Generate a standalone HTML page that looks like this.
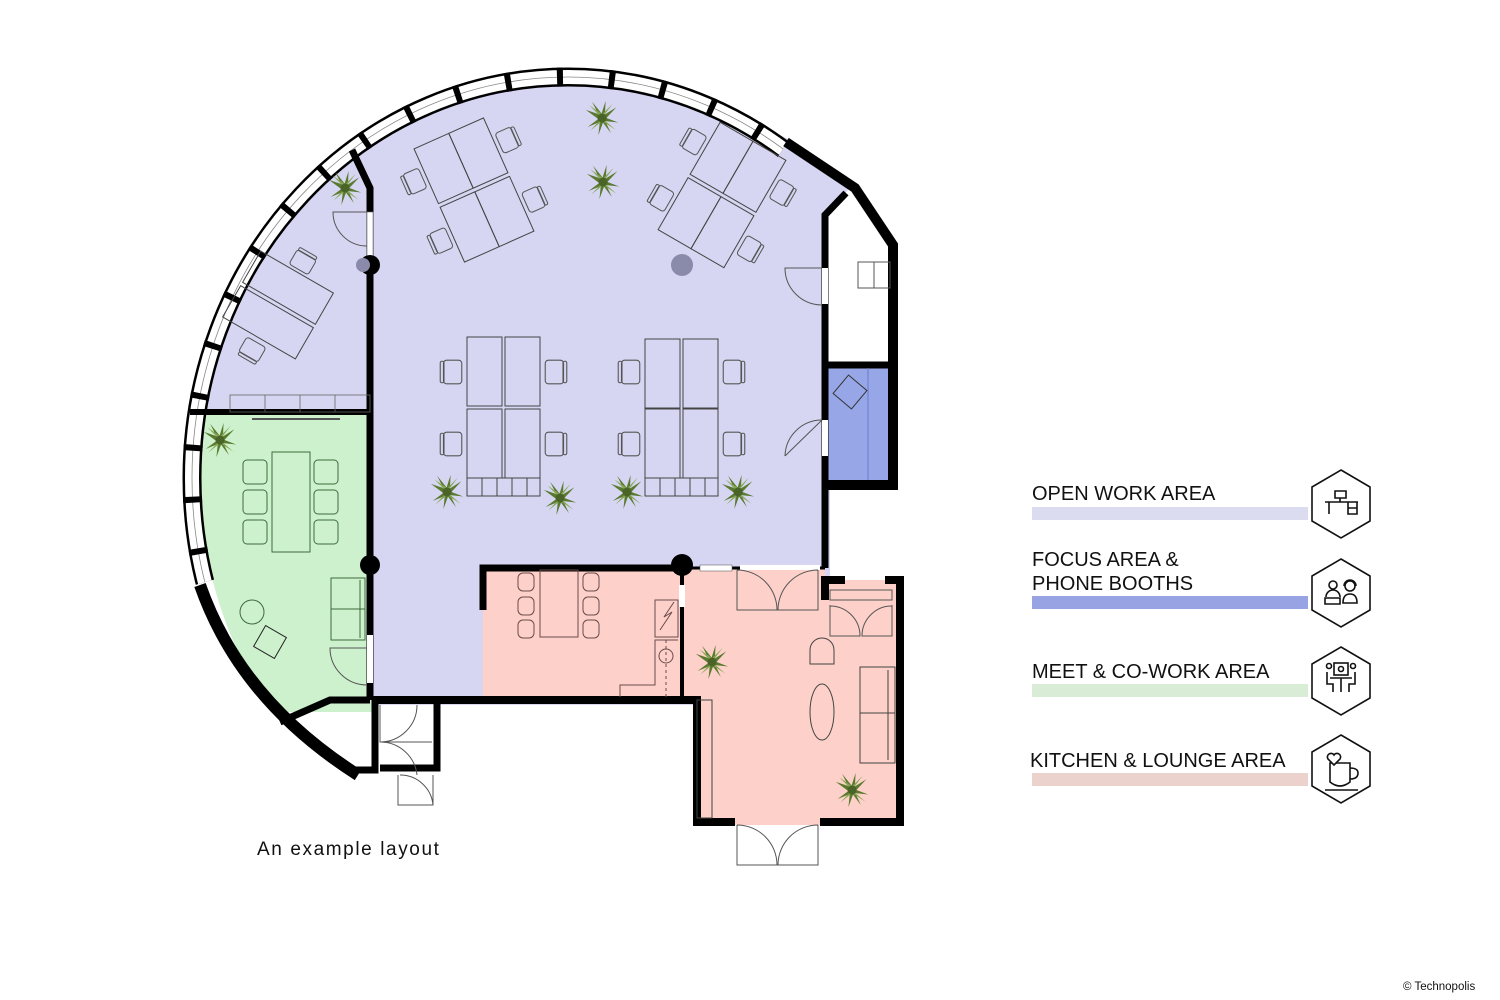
<!DOCTYPE html>
<html><head><meta charset="utf-8"><style>
html,body{margin:0;padding:0;background:#fff;}
svg{display:block;}
text{font-family:"Liberation Sans",sans-serif;}
</style></head><body>
<svg width="1500" height="1000" viewBox="0 0 1500 1000" xmlns="http://www.w3.org/2000/svg">
<defs>
<clipPath id="bld"><ellipse cx="568" cy="478" rx="368" ry="392"/></clipPath>
<clipPath id="band"><polygon points="568,478 900,-30 0,-30 0,641"/></clipPath>
<symbol id="plant" viewBox="-20 -20 40 40" overflow="visible">
<g fill="#5a7a30">
<polygon points="0,-3 -18,-9 -3,2"/><polygon points="-2,0 -11,-18 2,-2"/><polygon points="-2,0 4,-19 3,1"/>
<polygon points="0,-2 16,-12 2,3"/><polygon points="0,-2 18,5 0,3"/><polygon points="-2,1 10,17 2,0"/>
<polygon points="-2,0 -4,19 3,0"/><polygon points="0,-2 -16,10 1,3"/>
</g>
<g fill="#86a552">
<polygon points="0,0 -14,-14 2,-3"/><polygon points="0,0 12,-16 -2,-2"/><polygon points="0,0 15,13 -2,2"/><polygon points="0,0 -13,14 2,2"/>
</g>
<circle r="5" fill="#4a6428"/>
</symbol>
<symbol id="chair" viewBox="0 0 20 26" overflow="visible">
<rect x="3" y="2" width="17" height="22" rx="3" fill="none" stroke="#555" stroke-width="1"/>
<rect x="0" y="3" width="3.5" height="20" rx="1.5" fill="none" stroke="#555" stroke-width="1"/>
</symbol>
</defs>

<!-- floor fills -->
<g clip-path="url(#bld)">
<rect x="190" y="60" width="640" height="645" fill="#d6d6f2"/>
<rect x="190" y="412" width="182" height="300" fill="#cdf1cd"/>
<rect x="825" y="150" width="80" height="215" fill="#fff"/>
</g>
<polygon points="760,125 790,140 850,188 825,215 760,215" fill="#d6d6f2"/>
<polygon points="825,215 846,193 897,245 897,365 825,365" fill="#fff"/>
<rect x="825" y="365" width="67" height="117" fill="#97a6e6"/>
<rect x="483" y="568" width="199" height="131" fill="#fdd1c9"/>
<polygon points="682,568 825,568 825,580 900,580 900,825 695,825 695,700 682,700" fill="#fdd1c9"/>
<polygon points="190,590 200,590 280,722 232,700" fill="#fff"/>

<!-- window band -->
<g clip-path="url(#band)" fill="none">
<ellipse cx="568" cy="478" rx="376" ry="401" stroke="#000" stroke-width="19"/>
<ellipse cx="568" cy="478" rx="376" ry="401" stroke="#fff" stroke-width="14"/>
<ellipse cx="568" cy="478" rx="376" ry="401" stroke="#888" stroke-width="0.8"/>
<ellipse cx="568" cy="478" rx="376" ry="401" stroke="#000" stroke-width="19" stroke-dasharray="6 46"/>
</g>

<!-- outer walls -->
<g fill="none" stroke="#000" stroke-linejoin="miter">
<path d="M786,142 L855,188 L893,245 L893,485 L825,485" stroke-width="10"/>
<path d="M200,585 Q240,700 358,775" stroke-width="12"/>
<path d="M370,700 L330,700 L280,722" stroke-width="7"/>
<path d="M352,150 L370,188 L370,700" stroke-width="7"/>
<path d="M190,412 L370,412" stroke-width="6"/>
<path d="M372,700 L697,700 L697,822 L735,822 M820,822 L900,822 L900,580 L885,580 M845,580 L825,580 L825,600" stroke-width="8"/>
<path d="M483,610 L483,568 L682,568" stroke-width="7"/>
<path d="M682,568 L682,700" stroke-width="4"/>
<path d="M682,568 L825,568" stroke-width="3"/>
<path d="M825,568 L825,215 L846,193" stroke-width="7"/>
<path d="M825,365 L893,365" stroke-width="7"/>
<path d="M375,700 L375,770 L355,770 M437,700 L437,768 L380,768" stroke-width="7"/>
</g>
<!-- window gaps -->
<rect x="700" y="565" width="32" height="6" fill="#fff" stroke="#666" stroke-width="0.6"/>
<rect x="740" y="565" width="80" height="5" fill="#fff"/>
<rect x="367" y="212" width="6" height="45" fill="#fff" stroke="#666" stroke-width="0.6"/>
<rect x="822" y="268" width="6" height="36" fill="#fff"/>
<rect x="822" y="420" width="6" height="36" fill="#fff"/>
<rect x="367" y="635" width="6" height="48" fill="#fff"/>
<rect x="679" y="585" width="6" height="22" fill="#fff"/>

<!-- columns -->
<circle cx="370" cy="265" r="10" fill="#000"/>
<circle cx="363" cy="265" r="7" fill="#8a8aaa"/>
<circle cx="682" cy="265" r="11" fill="#8a8aaa"/>
<circle cx="370" cy="565" r="10" fill="#000"/>
<circle cx="682" cy="565" r="11" fill="#000"/>

<!-- doors -->
<g fill="none" stroke="#555" stroke-width="1">
<path d="M822,268 L785,268 A37,37 0 0 0 822,305"/>
<path d="M822,420 L785,456 M785,456 A37,37 0 0 1 822,420"/>
<path d="M367,212 L333,212 A34,34 0 0 0 367,246"/>
<path d="M367,648 L330,648 A37,37 0 0 0 367,685"/>
<path d="M737,570 L737,610 L777,610 A40,40 0 0 0 737,570 M818,570 L818,610 L778,610 A40,40 0 0 1 818,570"/>
<path d="M830,605 L830,636 L860,636 A30,30 0 0 0 830,606 M892,605 L892,636 L862,636 A30,30 0 0 1 892,606"/>
<path d="M737,825 L737,865 L777,865 A40,40 0 0 0 737,825 M818,825 L818,865 L778,865 A40,40 0 0 1 818,825"/>
<path d="M380,705 L380,742 A37,37 0 0 0 417,705 M380,742 L432,742"/>
<path d="M380,742 A37,37 0 0 1 417,775 M398,775 L398,805 L433,805 L433,775 M400,775 A33,33 0 0 1 433,805"/>
<path d="M830,590 L892,590 L892,600 L830,600 Z"/>
<path d="M858,262 H890 V288 H858 Z M874,262 V288"/>
</g>

<!-- desks: top-left cluster -->
<g transform="translate(474,190) rotate(-24)" fill="none" stroke="#444" stroke-width="1">
<rect x="-38" y="-62" width="38" height="60"/><rect x="0" y="-62" width="38" height="60"/>
<rect x="-38" y="2" width="38" height="60"/><rect x="0" y="2" width="38" height="60"/>
<use href="#chair" x="-62" y="-45" width="20" height="26"/>
<use href="#chair" x="-62" y="20" width="20" height="26"/>
<use href="#chair" x="42" y="-45" width="20" height="26" transform="rotate(180 52 -32)"/>
<use href="#chair" x="42" y="20" width="20" height="26" transform="rotate(180 52 33)"/>
</g>
<!-- top-right cluster -->
<g transform="translate(722,195) rotate(30)" fill="none" stroke="#444" stroke-width="1">
<rect x="-38" y="-62" width="38" height="60"/><rect x="0" y="-62" width="38" height="60"/>
<rect x="-38" y="2" width="38" height="60"/><rect x="0" y="2" width="38" height="60"/>
<use href="#chair" x="-62" y="-45" width="20" height="26"/>
<use href="#chair" x="-62" y="20" width="20" height="26"/>
<use href="#chair" x="42" y="-45" width="20" height="26" transform="rotate(180 52 -32)"/>
<use href="#chair" x="42" y="20" width="20" height="26" transform="rotate(180 52 33)"/>
</g>
<!-- upper-left room desks -->
<g transform="translate(278,305) rotate(30)" fill="none" stroke="#444" stroke-width="1">
<rect x="-42" y="-38" width="84" height="36"/><rect x="-42" y="2" width="84" height="36"/>
<use href="#chair" x="-10" y="-64" width="20" height="26" transform="rotate(90 0 -51)"/>
<use href="#chair" x="-10" y="40" width="20" height="26" transform="rotate(-90 0 53)"/>
</g>
<rect x="230" y="395" width="140" height="17" fill="none" stroke="#666" stroke-width="0.8"/>
<path d="M265,395V412M300,395V412M335,395V412" stroke="#666" stroke-width="0.8"/>

<!-- middle desk groups -->
<g fill="none" stroke="#444" stroke-width="1">
<rect x="467" y="337" width="35" height="69"/><rect x="505" y="337" width="35" height="69"/>
<rect x="467" y="409" width="35" height="69"/><rect x="505" y="409" width="35" height="69"/>
<rect x="467" y="478" width="73" height="18"/><path d="M482,478V496M497,478V496M512,478V496M527,478V496"/>
<rect x="645" y="339" width="35" height="69"/><rect x="683" y="339" width="35" height="69"/>
<rect x="645" y="409" width="35" height="69"/><rect x="683" y="409" width="35" height="69"/>
<rect x="645" y="478" width="73" height="18"/><path d="M660,478V496M675,478V496M690,478V496M705,478V496"/>
</g>
<use href="#chair" x="440" y="358" width="22" height="28"/>
<use href="#chair" x="440" y="430" width="22" height="28"/>
<use href="#chair" x="618" y="358" width="22" height="28"/>
<use href="#chair" x="618" y="430" width="22" height="28"/>
<use href="#chair" x="545" y="358" width="22" height="28" transform="rotate(180 556 372)"/>
<use href="#chair" x="545" y="430" width="22" height="28" transform="rotate(180 556 444)"/>
<use href="#chair" x="723" y="358" width="22" height="28" transform="rotate(180 734 372)"/>
<use href="#chair" x="723" y="430" width="22" height="28" transform="rotate(180 734 444)"/>

<!-- focus chair -->
<rect x="838" y="380" width="24" height="24" transform="rotate(40 850 392)" fill="none" stroke="#333" stroke-width="1"/>
<line x1="868" y1="368" x2="868" y2="480" stroke="#6a7acc" stroke-width="1"/>

<!-- green room -->
<g fill="none" stroke="#3d6b3d" stroke-width="1">
<rect x="272" y="452" width="38" height="100"/>
<rect x="243" y="460" width="24" height="24" rx="4"/><rect x="243" y="490" width="24" height="24" rx="4"/><rect x="243" y="520" width="24" height="24" rx="4"/>
<rect x="314" y="460" width="24" height="24" rx="4"/><rect x="314" y="490" width="24" height="24" rx="4"/><rect x="314" y="520" width="24" height="24" rx="4"/>
<rect x="331" y="578" width="34" height="62"/><path d="M331,609H365M360,580V638"/>
<circle cx="252" cy="612" r="12"/>
<rect x="258" y="630" width="24" height="24" transform="rotate(30 270 642)" stroke="#222"/>
</g>
<line x1="252" y1="419" x2="340" y2="419" stroke="#555" stroke-width="2"/>

<!-- kitchen -->
<g fill="none" stroke="#6a4a4a" stroke-width="1">
<rect x="540" y="570" width="38" height="67"/>
<rect x="518" y="573" width="16" height="18" rx="5"/><rect x="518" y="597" width="16" height="18" rx="5"/><rect x="518" y="620" width="16" height="18" rx="5"/>
<rect x="583" y="573" width="16" height="18" rx="5"/><rect x="583" y="597" width="16" height="18" rx="5"/><rect x="583" y="620" width="16" height="18" rx="5"/>
<path d="M655,600H678V637H655Z M660,630L672,612L664,617L674,602"/>
<path d="M620,697V685H655V640H678" />
<circle cx="666" cy="656" r="7"/>
<path d="M666,640V697" stroke-dasharray="3 3"/>
</g>

<!-- lounge -->
<g fill="none" stroke="#444" stroke-width="1">
<ellipse cx="822" cy="712" rx="12" ry="28"/>
<rect x="860" y="667" width="35" height="96"/><path d="M860,713H895M888,670V760"/>
<path d="M810,664V650A12,12 0 0 1 834,650V664Z"/>
<rect x="697" y="700" width="15" height="118"/>
</g>

<!-- plants -->
<use href="#plant" x="584" y="100" width="36" height="36"/>
<use href="#plant" x="585" y="164" width="36" height="36"/>
<use href="#plant" x="327" y="170" width="36" height="36"/>
<use href="#plant" x="202" y="422" width="36" height="36"/>
<use href="#plant" x="429" y="474" width="36" height="36"/>
<use href="#plant" x="542" y="480" width="36" height="36"/>
<use href="#plant" x="609" y="474" width="36" height="36"/>
<use href="#plant" x="720" y="474" width="36" height="36"/>
<use href="#plant" x="694" y="644" width="36" height="36"/>
<use href="#plant" x="834" y="772" width="36" height="36"/>

<text x="257" y="855" font-size="19" letter-spacing="1.6" fill="#111">An example layout</text>

<!-- legend -->
<g font-size="20" fill="#111">
<text x="1032" y="500">OPEN WORK AREA</text>
<text x="1032" y="566">FOCUS AREA &amp;</text>
<text x="1032" y="590">PHONE BOOTHS</text>
<text x="1032" y="678">MEET &amp; CO-WORK AREA</text>
<text x="1030" y="767">KITCHEN &amp; LOUNGE AREA</text>
</g>
<rect x="1032" y="507" width="276" height="13" fill="#dcdcf0"/>
<rect x="1032" y="596" width="276" height="13" fill="#98a3e4"/>
<rect x="1032" y="684" width="276" height="13" fill="#d9ecd5"/>
<rect x="1032" y="773" width="276" height="13" fill="#ecd2cc"/>

<g fill="none" stroke="#111" stroke-width="1.6">
<polygon points="1341,470 1370,487 1370,521 1341,538 1312,521 1312,487"/>
<polygon points="1341,559 1370,576 1370,610 1341,627 1312,610 1312,576"/>
<polygon points="1341,647 1370,664 1370,698 1341,715 1312,698 1312,664"/>
<polygon points="1341,735 1370,752 1370,786 1341,803 1312,786 1312,752"/>
<path d="M1325,502H1358M1329,502V514M1348,502V514H1357V502M1348,508H1357M1335,491H1346V498H1335ZM1340,498V502"/>
<circle cx="1333" cy="585" r="4"/><path d="M1326,597A7,7 0 0 1 1340,597M1325,598H1340V604H1325Z"/>
<circle cx="1350" cy="586" r="5"/><path d="M1343,603Q1343,594 1350,594Q1357,594 1357,603Z M1344,586A6,6 0 0 1 1356,586"/>
<rect x="1334" y="663" width="14" height="12"/><circle cx="1341" cy="669" r="2.5"/>
<circle cx="1329" cy="666" r="2.5"/><circle cx="1353" cy="666" r="2.5"/>
<path d="M1330,678H1352M1341,678V692M1327,672V684H1333V692M1355,672V684H1349V692"/>
<path d="M1330,763V782Q1340,790 1350,782V763ZM1350,768Q1358,768 1358,773Q1358,779 1350,779M1325,790H1358"/>
<path d="M1334,765L1328,759A3,3 0 0 1 1334,755A3,3 0 0 1 1340,759Z" fill="#fff"/>
</g>

<text x="1403" y="990" font-size="11.5" fill="#111">© Technopolis</text>
</svg>
</body></html>
